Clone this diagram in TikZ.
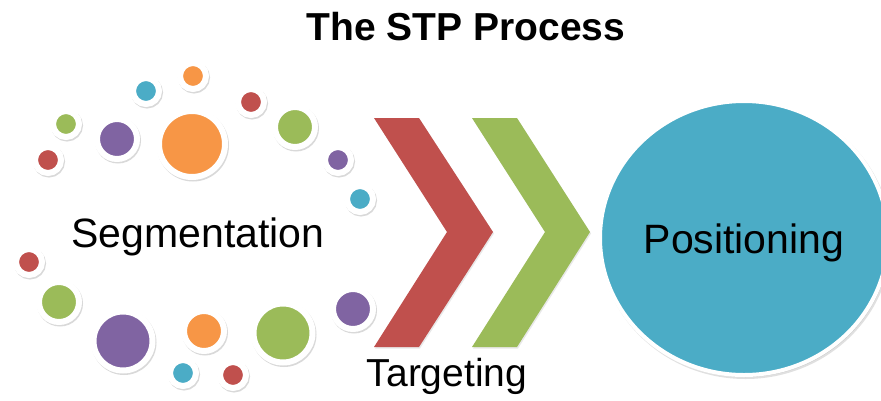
\documentclass[tikz,border=0pt]{standalone}
\usepackage{fontspec}
\setmainfont{Liberation Sans}
\usepackage{tikz}
\usetikzlibrary{shapes.geometric,shadows,positioning}

\definecolor{stpred}{HTML}{C0504D}
\definecolor{stpgreen}{HTML}{9BBB59}
\definecolor{stppurple}{HTML}{8064A2}
\definecolor{stpcyan}{HTML}{4BACC6}
\definecolor{stporange}{HTML}{F79646}

\begin{document}
\begin{tikzpicture}[
    x=1pt,
    y=-1pt,
    bubble/.style={
		circle,
		draw=white,
		line width=6pt,
		inner sep=0pt,
		drop shadow={shadow xshift=1pt, shadow yshift=-1.5pt, opacity=0.25, fill=black!60, draw=black!60}
	},
	bsmall/.style={minimum size=26pt},
	bmedium/.style={minimum size=40pt},
	blarge/.style={minimum size=59pt},
	bhuge/.style={minimum size=66pt},
	chevron/.style={
		drop shadow={shadow xshift=1pt, shadow yshift=-1.5pt, opacity=0.15, fill=black!60}
	},
	word/.style={
		inner sep=0pt,
		anchor=base,
		font=\fontsize{41}{41}\selectfont
	},
	title/.style={
		inner sep=0pt,
		anchor=base,
		font=\bfseries\fontsize{39}{39}\selectfont
	}
  ]

\useasboundingbox (0,0) rectangle (881,400);

\node [title] (head) at (466,40) {The STP Process};

% // Segmentation bubbles, upper arc
\node [bubble, bsmall, fill=stpred] (b1) at (48,160) {};
\node [bubble, bsmall, fill=stpgreen] (b2) at (66,124) {};
\node [bubble, bmedium, fill=stppurple] (b3) at (117,139) {};
\node [bubble, bsmall, fill=stpcyan] (b4) at (146,91) {};
\node [bubble, bsmall, fill=stporange] (b5) at (193,76) {};
\node [bubble, bhuge, fill=stporange] (b6) at (192,144) {};
\node [bubble, bsmall, fill=stpred] (b7) at (251,102) {};
\node [bubble, bmedium, fill=stpgreen] (b8) at (295,127) {};
\node [bubble, bsmall, fill=stppurple] (b9) at (338,160) {};
\node [bubble, bsmall, fill=stpcyan] (b10) at (360,199) {};

% // Segmentation bubbles, lower arc
\node [bubble, bsmall, fill=stpred] (b11) at (29,262) {};
\node [bubble, bmedium, fill=stpgreen] (b12) at (59,302) {};
\node [bubble, blarge, fill=stppurple] (b13) at (123,341) {};
\node [bubble, bmedium, fill=stporange] (b14) at (204,331) {};
\node [bubble, bsmall, fill=stpcyan] (b15) at (183,373) {};
\node [bubble, bsmall, fill=stpred] (b16) at (233,375) {};
\node [bubble, blarge, fill=stpgreen] (b17) at (283,333) {};
\node [bubble, bmedium, fill=stppurple] (b18) at (353,309) {};

\node [word] (seg) at (198,247) {Segmentation};

% // Targeting chevrons
\fill [stpred, chevron] (374,118) -- (419,118) -- (493,232) -- (419,347) -- (374,347) -- (447,232) -- cycle;
\fill [stpgreen, chevron] (472,118) -- (517,118) -- (590,232) -- (517,347) -- (472,347) -- (545,232) -- cycle;

\node [word, font=\fontsize{39}{39}\selectfont] (tar) at (447,386) {Targeting};

% // Positioning
\node [
ellipse,
fill=stpcyan,
draw=white,
line width=4pt,
minimum width=288pt,
minimum height=274pt,
inner sep=0pt,
drop shadow={shadow xshift=1.5pt, shadow yshift=-2pt, opacity=0.2, fill=black!60, draw=black!60}
] (pos) at (744,238) {};
\node [word, anchor=center, text depth=0pt, yshift=-1pt] (postxt) at (pos.center) {Positioning};

\end{tikzpicture}
\end{document}
